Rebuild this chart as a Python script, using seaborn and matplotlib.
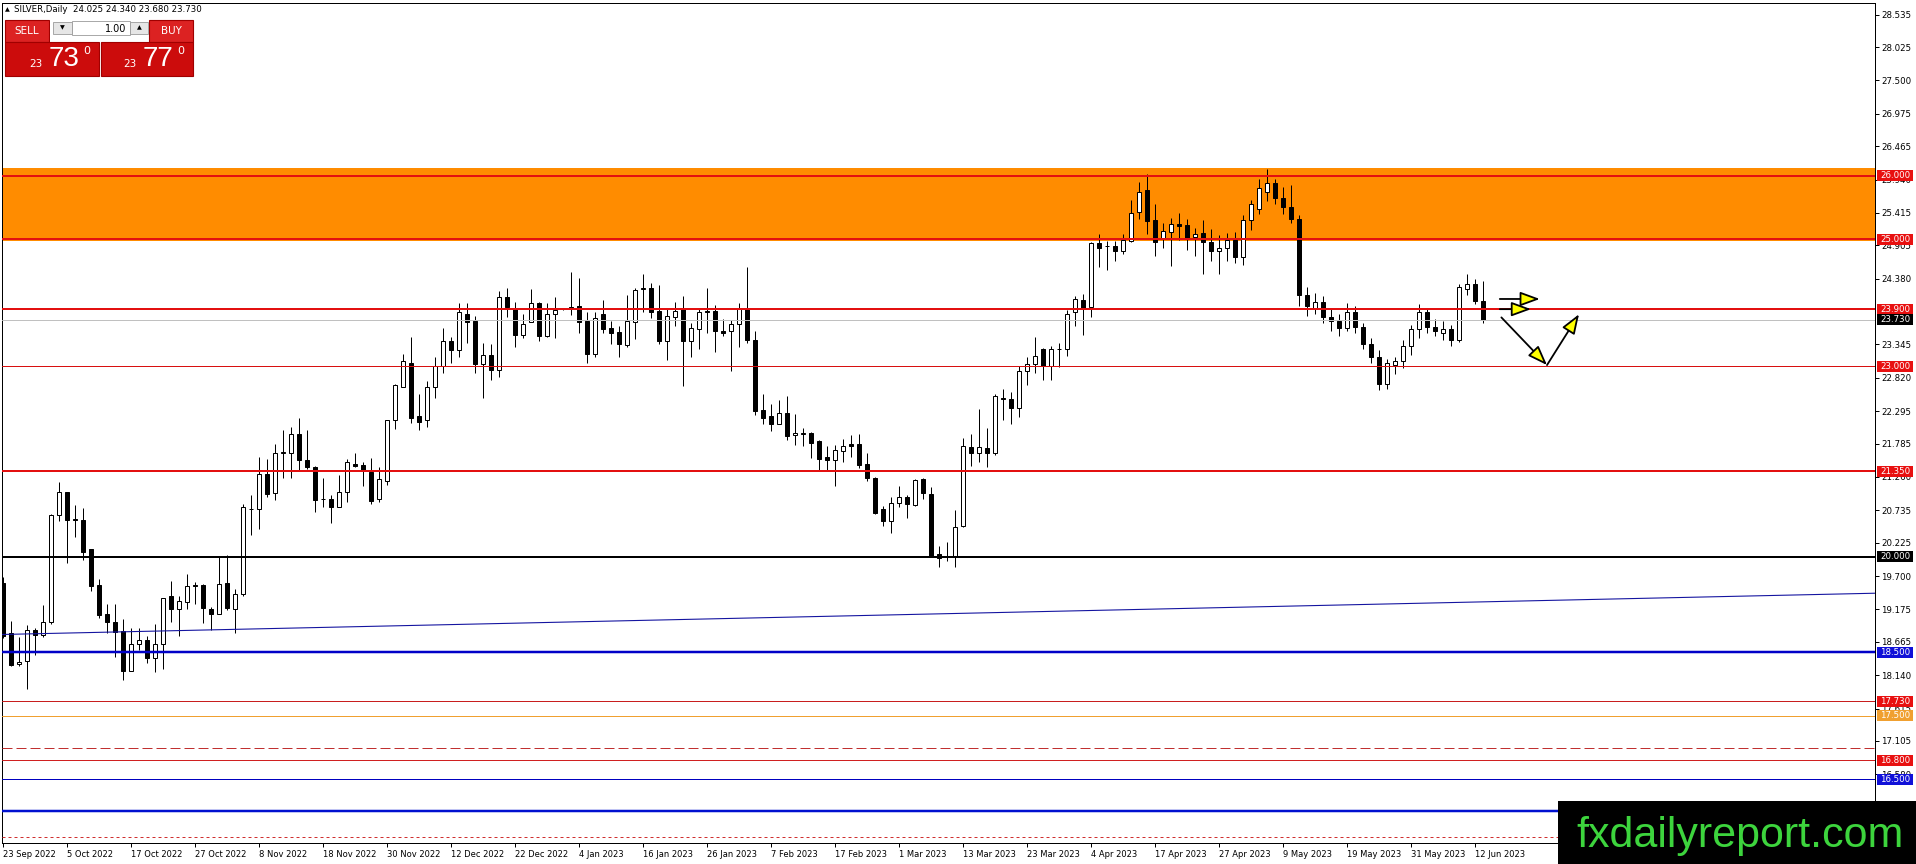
import matplotlib
matplotlib.use("Agg")
import matplotlib.pyplot as plt
from matplotlib.patches import Rectangle
from matplotlib.transforms import IdentityTransform
import numpy as np
import pandas as pd
import seaborn as sns

W, H = 1916, 864

# ---------------- data ----------------
x_tick_labels = ["23 Sep 2022", "5 Oct 2022", "17 Oct 2022", "27 Oct 2022", "8 Nov 2022",
                 "18 Nov 2022", "30 Nov 2022", "12 Dec 2022", "22 Dec 2022", "4 Jan 2023",
                 "16 Jan 2023", "26 Jan 2023", "7 Feb 2023", "17 Feb 2023", "1 Mar 2023",
                 "13 Mar 2023", "23 Mar 2023", "4 Apr 2023", "17 Apr 2023", "27 Apr 2023",
                 "9 May 2023", "19 May 2023", "31 May 2023", "12 Jun 2023"]
x_tick_bars = [0, 8, 16, 24, 32, 40, 48, 56, 64, 72, 80, 88, 96, 104, 112, 120,
               128, 136, 144, 152, 160, 168, 176, 184]

y_tick_values = [28.535, 28.025, 27.500, 26.975, 26.465, 25.940, 25.415, 24.905, 24.380,
                 23.345, 22.820, 22.295, 21.785, 21.260, 20.735, 20.225, 19.700,
                 19.175, 18.665, 18.140, 17.615, 17.105, 16.580, 16.055]

open_ = [19.59, 18.81, 18.31, 18.36, 18.85, 18.78, 18.97, 20.66, 21.02, 20.60,
         20.59, 20.13, 19.56, 19.11, 18.97, 18.84, 18.20, 18.63, 18.69, 18.41,
         18.63, 19.39, 19.18, 19.29, 19.56, 19.56, 19.18, 19.10, 19.59, 19.18,
         19.42, 20.76, 20.75, 21.31, 21.00, 21.63, 21.63, 21.93, 21.52, 21.42,
         20.91, 20.91, 20.79, 21.03, 21.47, 21.45, 21.34, 20.91, 21.20, 22.16,
         22.68, 23.06, 22.22, 22.16, 22.68, 23.01, 23.40, 23.25, 23.82, 23.72,
         23.03, 23.18, 22.94, 24.09, 23.90, 23.50, 23.69, 23.99, 23.48, 23.83,
         23.90, 23.93, 23.95, 23.71, 23.19, 23.82, 23.60, 23.54, 23.34, 23.70,
         24.21, 24.24, 23.87, 23.40, 23.78, 23.90, 23.40, 23.59, 23.87, 23.87,
         23.56, 23.55, 23.66, 23.90, 23.42, 22.31, 22.22, 22.10, 22.26, 21.92,
         21.94, 21.95, 21.82, 21.57, 21.52, 21.67, 21.78, 21.78, 21.46, 21.25,
         20.75, 20.56, 20.85, 20.94, 20.82, 21.22, 20.99, 20.04, 20.00, 20.01,
         20.48, 21.73, 21.63, 21.71, 21.63, 22.50, 22.49, 22.34, 22.93, 23.03,
         23.28, 23.01, 23.27, 23.28, 23.85, 24.04, 23.93, 24.94, 24.90, 24.89,
         24.82, 24.97, 25.43, 25.78, 25.30, 25.00, 25.12, 25.24, 25.22, 25.04,
         25.10, 24.96, 24.81, 24.87, 24.99, 24.72, 25.30, 25.48, 25.75, 25.88,
         25.65, 25.50, 25.32, 24.12, 23.90, 24.02, 23.78, 23.72, 23.60, 23.85,
         23.62, 23.35, 23.15, 22.72, 23.02, 23.08, 23.32, 23.58, 23.85, 23.62,
         23.52, 23.58, 23.42, 24.22, 24.30, 24.025]
high_ = [19.69, 18.99, 18.74, 18.93, 18.88, 19.25, 20.67, 21.18, 21.03, 20.82,
         20.77, 20.13, 19.66, 19.26, 19.26, 19.02, 18.89, 18.88, 18.76, 18.95,
         19.35, 19.62, 19.39, 19.73, 19.61, 19.57, 19.22, 20.01, 20.03, 19.49,
         20.84, 20.97, 21.58, 21.54, 21.78, 22.00, 22.04, 22.19, 22.00, 21.43,
         21.24, 20.98, 21.29, 21.54, 21.63, 21.50, 21.56, 21.41, 22.16, 22.73,
         23.19, 23.46, 22.56, 22.77, 23.15, 23.60, 23.46, 24.00, 24.00, 23.80,
         23.36, 23.35, 24.19, 24.23, 24.02, 23.83, 24.21, 24.02, 23.99, 24.09,
         23.91, 24.48, 24.39, 23.86, 23.85, 24.04, 23.71, 23.63, 24.12, 24.23,
         24.45, 24.31, 24.28, 23.90, 24.01, 24.11, 23.68, 23.91, 24.23, 23.97,
         23.74, 23.73, 23.99, 24.57, 23.56, 22.57, 22.41, 22.47, 22.54, 22.25,
         22.03, 21.97, 21.84, 21.74, 21.76, 21.85, 21.92, 21.94, 21.63, 21.26,
         20.80, 20.95, 21.11, 20.98, 21.22, 21.25, 21.10, 20.17, 20.23, 20.74,
         21.87, 21.94, 22.33, 22.03, 22.56, 22.65, 22.59, 23.00, 23.15, 23.46,
         23.29, 23.32, 23.36, 23.88, 24.11, 24.14, 24.96, 25.08, 24.98, 24.98,
         25.08, 25.61, 25.90, 26.02, 25.56, 25.25, 25.33, 25.42, 25.32, 25.17,
         25.30, 25.16, 25.06, 25.10, 25.12, 25.38, 25.62, 25.95, 26.10, 25.95,
         25.82, 25.85, 25.38, 24.25, 24.15, 24.10, 23.92, 23.82, 24.00, 23.95,
         23.68, 23.45, 23.25, 23.12, 23.15, 23.42, 23.65, 23.98, 23.92, 23.75,
         23.72, 23.65, 24.30, 24.45, 24.38, 24.34]
low_ = [18.72, 18.29, 18.28, 17.93, 18.46, 18.74, 18.95, 20.56, 19.90, 20.32,
        19.96, 19.47, 19.04, 18.80, 18.42, 18.07, 18.20, 18.53, 18.33, 18.19,
        18.24, 18.97, 18.75, 19.18, 19.26, 18.96, 18.85, 19.10, 19.16, 18.80,
        19.38, 20.34, 20.44, 20.95, 20.90, 21.24, 21.25, 21.37, 21.38, 20.71,
        20.79, 20.54, 20.78, 20.87, 21.41, 21.11, 20.83, 20.86, 21.14, 22.01,
        22.68, 22.11, 22.00, 22.05, 22.50, 22.90, 23.05, 23.15, 23.37, 22.90,
        22.50, 22.79, 22.83, 23.77, 23.31, 23.45, 23.69, 23.40, 23.46, 23.45,
        23.89, 23.81, 23.53, 23.06, 23.14, 23.52, 23.35, 23.15, 23.31, 23.43,
        23.86, 23.76, 23.35, 23.10, 23.64, 22.69, 23.15, 23.27, 23.53, 23.23,
        23.47, 22.92, 23.30, 23.36, 22.24, 22.09, 21.99, 22.10, 21.84, 21.76,
        21.74, 21.55, 21.37, 21.37, 21.11, 21.49, 21.58, 21.40, 21.20, 20.68,
        20.49, 20.37, 20.78, 20.62, 20.80, 20.92, 20.00, 19.85, 19.93, 19.85,
        20.47, 21.43, 21.49, 21.41, 21.60, 22.16, 22.10, 22.21, 22.70, 22.90,
        22.78, 22.78, 22.99, 23.16, 23.63, 23.50, 23.77, 24.57, 24.51, 24.65,
        24.77, 24.95, 25.32, 25.08, 24.74, 24.86, 24.58, 24.99, 24.83, 24.73,
        24.45, 24.66, 24.45, 24.66, 24.62, 24.60, 25.15, 25.40, 25.60, 25.55,
        25.40, 25.25, 23.95, 23.80, 23.82, 23.68, 23.55, 23.48, 23.55, 23.52,
        23.28, 23.05, 22.62, 22.65, 22.88, 22.98, 23.18, 23.45, 23.52, 23.48,
        23.42, 23.32, 23.38, 24.12, 23.98, 23.68]
close_ = [18.75, 18.30, 18.34, 18.85, 18.77, 18.98, 20.66, 21.02, 20.59, 20.58,
          20.08, 19.55, 19.09, 18.97, 18.82, 18.21, 18.63, 18.69, 18.41, 18.63,
          19.35, 19.18, 19.30, 19.54, 19.54, 19.20, 19.11, 19.57, 19.19, 19.41,
          20.79, 20.75, 21.31, 20.99, 21.63, 21.66, 21.93, 21.52, 21.41, 20.90,
          20.905, 20.79, 21.03, 21.49, 21.43, 21.37, 20.88, 21.22, 22.16, 22.71,
          23.09, 22.19, 22.13, 22.68, 23.00, 23.40, 23.26, 23.85, 23.70, 23.03,
          23.18, 22.95, 24.09, 23.93, 23.50, 23.66, 23.99, 23.48, 23.83, 23.89,
          23.90, 23.92, 23.70, 23.19, 23.76, 23.59, 23.53, 23.35, 23.71, 24.20,
          24.24, 23.86, 23.40, 23.79, 23.87, 23.40, 23.61, 23.85, 23.85, 23.55,
          23.52, 23.66, 23.90, 23.42, 22.29, 22.19, 22.10, 22.26, 21.91, 21.95,
          21.95, 21.80, 21.54, 21.52, 21.68, 21.75, 21.75, 21.45, 21.25, 20.69,
          20.56, 20.85, 20.94, 20.83, 21.21, 21.00, 20.01, 19.98, 19.995, 20.47,
          21.74, 21.63, 21.73, 21.63, 22.54, 22.48, 22.34, 22.93, 23.03, 23.16,
          23.01, 23.27, 23.275, 23.83, 24.06, 23.92, 24.94, 24.87, 24.895, 24.81,
          24.99, 25.42, 25.75, 25.29, 24.96, 25.13, 25.24, 25.21, 25.00, 25.09,
          24.96, 24.81, 24.87, 24.99, 24.72, 25.30, 25.55, 25.80, 25.88, 25.65,
          25.50, 25.32, 24.12, 23.95, 24.02, 23.78, 23.72, 23.60, 23.85, 23.62,
          23.35, 23.15, 22.72, 23.05, 23.08, 23.32, 23.58, 23.85, 23.62, 23.55,
          23.58, 23.42, 24.25, 24.30, 24.03, 23.73]

zone_low, zone_high = 24.98, 26.12
level_values = [26.0, 25.0, 23.9, 23.73, 23.0, 21.35, 20.0, 18.5, 17.73, 17.5, 17.0,
                16.8, 16.5, 16.0, 15.6]
level_labels = ["26.000", "25.000", "23.900", "23.730", "23.000", "21.350", "20.000",
                "18.500", "17.730", "17.500", None, "16.800", "16.500", None, None]
trend_bars = [-0.375, 234.0]
trend_prices = [18.78, 19.43]
arrow_tails = [(187.1, 24.06), (187.1, 23.90), (187.3, 23.77), (193.0, 23.02)]
arrow_heads = [(192.1, 24.06), (191.0, 23.90), (193.0, 23.02), (197.0, 23.82)]
header_text = "SILVER,Daily  24.025 24.340 23.680 23.730"

# ---------------- styles (separate from data) ----------------
PX = 0.72  # one pixel in points at dpi 100
level_styles = [
    dict(color="#e31010", lw=2), dict(color="#e31010", lw=2), dict(color="#e31010", lw=2),
    dict(color="#c0c0c0", lw=1), dict(color="#d81010", lw=1), dict(color="#e31010", lw=2),
    dict(color="#000000", lw=2), dict(color="#0000c8", lw=2.5), dict(color="#c81e1e", lw=1),
    dict(color="#f0a030", lw=1), dict(color="#c03030", lw=1, dashes=(10, 4)),
    dict(color="#d02020", lw=1), dict(color="#0000c0", lw=1), dict(color="#0010d0", lw=2.5),
    dict(color="#d03030", lw=1, dashes=(3, 3)),
]
label_box_colors = {"26.000": "#e81010", "25.000": "#e81010", "23.900": "#e81010",
                    "23.730": "#000000", "23.000": "#e81010", "21.350": "#e81010",
                    "20.000": "#000000", "18.500": "#1010d8", "17.730": "#e81010",
                    "17.500": "#f0a030", "16.800": "#e81010", "16.500": "#1010d8"}

sns.set_theme(style="white")
plt.rcParams["font.family"] = ["DejaVu Sans"]

fig = plt.figure(figsize=(W / 100, H / 100), dpi=100)
fig.patch.set_facecolor("white")
ax = fig.add_axes([2 / W, 1 - 843 / H, 1873 / W, 840 / H])
ax.set_facecolor("white")

df = pd.DataFrame({"bar": np.arange(len(open_)), "open": open_, "high": high_,
                   "low": low_, "close": close_})
df["bottom"] = df[["open", "close"]].min(axis=1)
df["height"] = (df["close"] - df["open"]).abs().clip(lower=0.004)
df["fill"] = np.where(df["close"] >= df["open"], "white", "black")

# supply/demand zone
ax.axhspan(zone_low, zone_high, color="#ff8c00", lw=0, zorder=0.5)

# candles
ax.vlines(df["bar"], df["low"], df["high"], color="black", lw=PX, zorder=2)
ax.bar(df["bar"], df["height"], bottom=df["bottom"], width=0.52, color=df["fill"],
       edgecolor="black", linewidth=PX, zorder=2.1)

# horizontal levels
for val, st in zip(level_values, level_styles):
    kw = dict(color=st["color"], lw=st["lw"] * PX, zorder=3)
    line = ax.axhline(val, **kw)
    if "dashes" in st:
        line.set_dashes(st["dashes"])
        line.set_dash_capstyle("butt")

# trend line
sns.lineplot(x=trend_bars, y=trend_prices, ax=ax, color="#1414a0", lw=1.1 * PX, zorder=3)

# arrows
for (tx, ty), (hx, hy) in zip(arrow_tails, arrow_heads):
    ax.annotate("", xy=(hx, hy), xytext=(tx, ty),
                arrowprops=dict(arrowstyle="-|>,head_length=0.6,head_width=0.22",
                                mutation_scale=20, fc="#ffff00", ec="black", lw=1.3,
                                shrinkA=0, shrinkB=0), zorder=6, annotation_clip=False)

ax.set_xlim(-0.125, 234.0)
ax.set_ylim(15.4995, 28.7175)

# axes
for s in ax.spines.values():
    s.set_color("black")
    s.set_linewidth(PX)
    s.set_visible(True)
ax.yaxis.tick_right()
ax.set_yticks(y_tick_values)
ax.set_yticklabels([f"{v:.3f}" for v in y_tick_values])
ax.set_xticks(x_tick_bars)
ax.set_xticklabels(x_tick_labels)
for lbl in ax.get_xticklabels():
    lbl.set_ha("left")
ax.tick_params(axis="y", right=True, left=False, labelright=True, labelleft=False,
               length=2.6, width=PX, pad=1.8, labelsize=6.2, colors="black", direction="out")
ax.tick_params(axis="x", bottom=True, length=2.6, width=PX, pad=2.2, labelsize=6.0,
               colors="black", direction="out")
ax.grid(False)
ax.set_xlabel("")
ax.set_ylabel("")

# price label boxes on the scale (drawn in pixel space at the data position)
ident = IdentityTransform()
axis_right_px = ax.transAxes.transform((1, 0))[0]
for val, lab in zip(level_values, level_labels):
    if lab is None:
        continue
    ypx = ax.transData.transform((0, val))[1]
    box = Rectangle((axis_right_px + 2, ypx - 5.5), 36, 11, transform=ident,
                    fc=label_box_colors[lab], ec="none", zorder=30)
    fig.add_artist(box)
    fig.text(axis_right_px + 20, ypx, lab, transform=ident, fontsize=6.2, color="white",
             ha="center", va="center", zorder=31)


# ---------------- figure level decorations ----------------
def frect(x0, y0, x1, y1, **kw):
    r = Rectangle((x0 / W, 1 - y1 / H), (x1 - x0) / W, (y1 - y0) / H,
                  transform=fig.transFigure, **kw)
    fig.add_artist(r)


def ftext(x, y, s, **kw):
    fig.text(x / W, 1 - y / H, s, **kw)


ftext(5, 9.5, "▲", fontsize=4.5, va="center", ha="left", color="black", zorder=12)
ftext(14, 9.5, header_text, fontsize=6.2, va="center", ha="left", color="black", zorder=12)

# trade panel
frect(5, 20, 49, 42, fc="#dc2222", ec="#a00000", lw=0.8, zorder=11)
frect(149, 20, 193, 42, fc="#dc2222", ec="#a00000", lw=0.8, zorder=11)
frect(50, 20, 148, 42, fc="white", ec="none", zorder=11)
frect(53, 22, 72, 34, fc="#e6e6e6", ec="#9a9a9a", lw=0.6, zorder=12)
frect(72, 21, 130, 35, fc="white", ec="#9a9a9a", lw=0.6, zorder=12)
frect(130, 22, 148, 34, fc="#e6e6e6", ec="#9a9a9a", lw=0.6, zorder=12)
frect(5, 42, 99, 76, fc="#cc0c0c", ec="#a00000", lw=0.8, zorder=11)
frect(101, 42, 193, 76, fc="#cc0c0c", ec="#a00000", lw=0.8, zorder=11)
ftext(27, 31, "SELL", fontsize=7.5, color="white", ha="center", va="center", zorder=13)
ftext(171, 31, "BUY", fontsize=7.5, color="white", ha="center", va="center", zorder=13)
ftext(62.5, 28, "▼", fontsize=4.5, color="black", ha="center", va="center", zorder=13)
ftext(139, 28, "▲", fontsize=4.5, color="black", ha="center", va="center", zorder=13)
ftext(126, 28.5, "1.00", fontsize=7, color="black", ha="right", va="center", zorder=13)
ftext(36, 64, "23", fontsize=7.5, color="white", ha="center", va="center", zorder=13)
ftext(64, 58.5, "73", fontsize=20, color="white", ha="center", va="center",
      family="Liberation Sans", zorder=13)
ftext(87, 51, "0", fontsize=8, color="white", ha="center", va="center", zorder=13)
ftext(130, 64, "23", fontsize=7.5, color="white", ha="center", va="center", zorder=13)
ftext(158, 58.5, "77", fontsize=20, color="white", ha="center", va="center",
      family="Liberation Sans", zorder=13)
ftext(181, 51, "0", fontsize=8, color="white", ha="center", va="center", zorder=13)

# watermark
frect(1558, 801, 1916, 864, fc="black", ec="none", zorder=40)
ftext(1740, 847, "fxdailyreport.com", fontsize=31, color="#3dd43d", ha="center",
      va="baseline", family="Liberation Sans", zorder=41)

fig.savefig("out.png", dpi=100, facecolor="white")
